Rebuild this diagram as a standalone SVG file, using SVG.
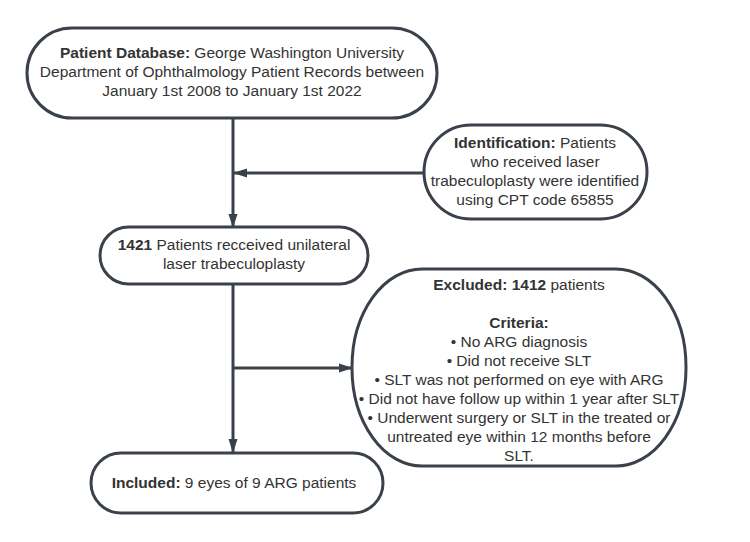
<svg xmlns="http://www.w3.org/2000/svg" width="750" height="542" viewBox="0 0 750 542">
<defs>
<marker id="arr" viewBox="0 0 14 10" refX="13" refY="5" markerWidth="14" markerHeight="10" orient="auto" markerUnits="userSpaceOnUse">
<path d="M0,0.5 L14,5 L0,9.5 z" fill="#3a414a"/>
</marker>
<style>
.node{fill:#ffffff;stroke:#3a414a;stroke-width:3}
.edge{fill:none;stroke:#3a414a;stroke-width:3;marker-end:url(#arr)}
text{font-family:"Liberation Sans",Arial,sans-serif;font-size:15.5px;fill:#333333;text-anchor:middle}
.b{font-weight:bold}
</style>
</defs>
<rect width="750" height="542" fill="#ffffff"/>
<g id="connectors">
<path class="edge" d="M233,118 V227"/>
<path class="edge" d="M424,173 H234"/>
<path class="edge" d="M233,284 V452"/>
<path class="edge" d="M233,368 H352"/>
</g>
<g id="database">
<rect class="node" x="27" y="28" width="410" height="90" rx="45" ry="45"/>
<text x="232" y="58"><tspan class="b">Patient Database:</tspan> George Washington University</text>
<text x="232" y="77">Department of Ophthalmology Patient Records between</text>
<text x="232" y="96">January 1st 2008 to January 1st 2022</text>
</g>
<g id="identification">
<rect class="node" x="424" y="125" width="223" height="94" rx="47" ry="47"/>
<text x="535" y="148"><tspan class="b">Identification:</tspan> Patients</text>
<text x="535" y="167">who received laser</text>
<text x="535" y="186">trabeculoplasty were identified</text>
<text x="535" y="205">using CPT code 65855</text>
</g>
<g id="patients">
<rect class="node" x="100" y="227" width="268" height="57" rx="28.5" ry="28.5"/>
<text x="234" y="250"><tspan class="b">1421</tspan> Patients recceived unilateral</text>
<text x="234" y="269">laser trabeculoplasty</text>
</g>
<g id="excluded">
<rect class="node" x="352" y="269" width="334" height="197" rx="70" ry="98"/>
<text x="519" y="290"><tspan class="b">Excluded: 1412</tspan> patients</text>
<text x="519" y="328" class="b">Criteria:</text>
<text x="519" y="347">• No ARG diagnosis</text>
<text x="519" y="366">• Did not receive SLT</text>
<text x="519" y="385">• SLT was not performed on eye with ARG</text>
<text x="519" y="404">• Did not have follow up within 1 year after SLT</text>
<text x="519" y="423">•  Underwent surgery or SLT in the treated or</text>
<text x="519" y="442">untreated eye within 12 months before</text>
<text x="519" y="461">SLT.</text>
</g>
<g id="included">
<rect class="node" x="91" y="453" width="292" height="60" rx="30" ry="30"/>
<text x="234" y="488"><tspan class="b">Included:</tspan> 9 eyes of 9 ARG patients</text>
</g>
</svg>
